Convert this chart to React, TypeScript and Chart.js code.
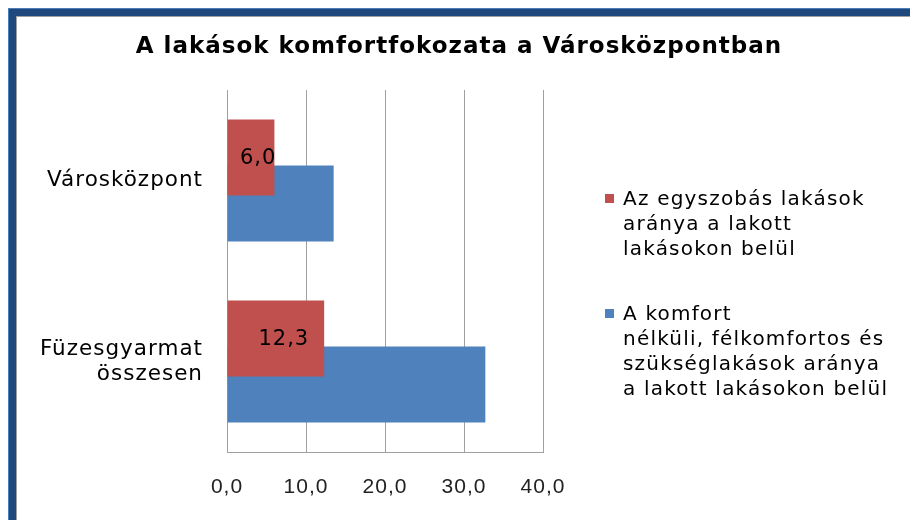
import React, { useEffect, useRef } from 'react';
import { Chart, registerables } from 'chart.js';

Chart.register(...registerables);

const TITLE = 'A lakások komfortfokozata a Városközpontban';
const CATEGORIES = [['Városközpont'], ['Füzesgyarmat', 'összesen']];
const SERIES_NAMES = [
  ['Az egyszobás lakások', 'aránya a lakott', 'lakásokon belül'],
  ['A komfort', 'nélküli, félkomfortos és', 'szükséglakások aránya', 'a lakott lakásokon belül'],
];
const ONE_ROOM_SHARE = [6.0, 12.3];
const LOW_COMFORT_SHARE = [13.5, 32.7];
const X_MIN = 0;
const X_MAX = 40;
const X_STEP = 10;
const COLORS = ['#c0504d', '#4f81bd'];

const fmt = (v: number) => v.toFixed(1).replace('.', ',');

export default function App() {
  const ref = useRef<HTMLCanvasElement>(null);

  useEffect(() => {
    const canvas = ref.current;
    if (!canvas) return;

    const spacing = {
      id: 'spacing',
      beforeDraw(chart: any) {
        (chart.ctx as any).letterSpacing = '1px';
      },
    };

    const valueLabels = {
      id: 'valueLabels',
      afterDatasetsDraw(chart: any) {
        const ctx = chart.ctx;
        const meta = chart.getDatasetMeta(0);
        const base = chart.scales.x.getPixelForValue(0);
        ctx.save();
        ctx.font = '21px "DejaVu Sans"';
        (ctx as any).letterSpacing = '1px';
        ctx.fillStyle = '#000';
        ctx.textBaseline = 'middle';
        ctx.textAlign = 'left';
        meta.data.forEach((bar: any, i: number) => {
          const text = fmt(ONE_ROOM_SHARE[i]);
          const w = ctx.measureText(text).width;
          const x = Math.max(bar.x - 15 - w, base + 13);
          ctx.fillText(text, x, bar.y + 1);
        });
        ctx.restore();
      },
    };

    const sideLegend = {
      id: 'sideLegend',
      afterDraw(chart: any) {
        const { ctx, chartArea } = chart;
        const boxX = chartArea.right + 62;
        const textX = chartArea.right + 80;
        let baseline = chartArea.top + 115;
        ctx.save();
        ctx.font = '20px "DejaVu Sans"';
        (ctx as any).letterSpacing = '1.2px';
        ctx.textBaseline = 'alphabetic';
        ctx.textAlign = 'left';
        SERIES_NAMES.forEach((lines, i) => {
          ctx.fillStyle = COLORS[i];
          ctx.fillRect(boxX, baseline - 11, 9, 9);
          ctx.fillStyle = '#000';
          lines.forEach((line, j) => ctx.fillText(line, textX, baseline + j * 25));
          baseline += lines.length * 25 + 40;
        });
        ctx.restore();
      },
    };

    const chart = new Chart(canvas, {
      type: 'bar',
      data: {
        labels: CATEGORIES,
        datasets: [
          {
            label: SERIES_NAMES[0].join(' '),
            data: ONE_ROOM_SHARE,
            backgroundColor: COLORS[0],
            xAxisID: 'x',
            yAxisID: 'y',
            categoryPercentage: 0.508,
            barPercentage: 1.65,
          },
          {
            label: SERIES_NAMES[1].join(' '),
            data: LOW_COMFORT_SHARE,
            backgroundColor: COLORS[1],
            xAxisID: 'x',
            yAxisID: 'y',
            categoryPercentage: 0.508,
            barPercentage: 1.65,
          },
        ],
      },
      options: {
        indexAxis: 'y',
        responsive: false,
        animation: false,
        events: [],
        layout: { padding: { left: 8, top: 8, right: 0, bottom: -3.2 } },
        plugins: {
          legend: { display: false },
          tooltip: { enabled: false },
          title: {
            display: true,
            text: TITLE,
            color: '#000',
            font: { family: '"DejaVu Sans"', size: 23, weight: 'bold' },
            padding: { top: 25.2, bottom: 29.2 },
          },
        },
        scales: {
          x: {
            type: 'linear',
            position: 'bottom',
            min: X_MIN,
            max: X_MAX,
            grid: { display: true, color: '#a0a0a0', drawTicks: false },
            border: { display: true, color: '#a0a0a0' },
            ticks: {
              stepSize: X_STEP,
              padding: 23,
              color: '#222',
              font: { family: '"Liberation Sans"', size: 21 },
              callback: (v: any) => fmt(Number(v)),
            },
          },
          y: {
            type: 'category',
            position: 'left',
            grid: { display: false, drawTicks: false },
            border: { display: true, color: '#a0a0a0' },
            ticks: {
              padding: 24,
              color: '#000',
              font: { family: '"DejaVu Sans"', size: 21.5, lineHeight: 1.163 },
            },
            afterFit: (s: any) => {
              s.width = 219;
              s.paddingTop = 0;
              s.paddingBottom = 0;
            },
          },
          legendSpace: {
            type: 'linear',
            axis: 'y',
            position: 'right',
            display: true,
            grid: { display: false, drawTicks: false },
            border: { display: false },
            ticks: { display: false },
            afterFit: (s: any) => {
              s.width = 367;
              s.paddingTop = 0;
              s.paddingBottom = 0;
            },
          },
        },
      },
      plugins: [spacing, valueLabels, sideLegend],
    } as any);

    return () => chart.destroy();
  }, []);

  return (
    <div style={{ position: 'fixed', left: 0, top: 0, width: 910, height: 520, overflow: 'hidden', background: '#fff' }}>
      <div
        style={{
          position: 'absolute', left: 8, top: 8, width: 1000, height: 1000,
          background: '#1f497d', borderTop: '1px solid #4a7ebb', borderLeft: '1px solid #4a7ebb',
        }}
      />
      <div
        style={{
          position: 'absolute', left: 16, top: 16, width: 1000, height: 1000,
          background: '#fff', borderTop: '1px solid #a0a0a0', borderLeft: '1px solid #a0a0a0',
        }}
      />
      <canvas ref={ref} width={910} height={520} style={{ position: 'absolute', left: 0, top: 0 }} />
    </div>
  );
}
